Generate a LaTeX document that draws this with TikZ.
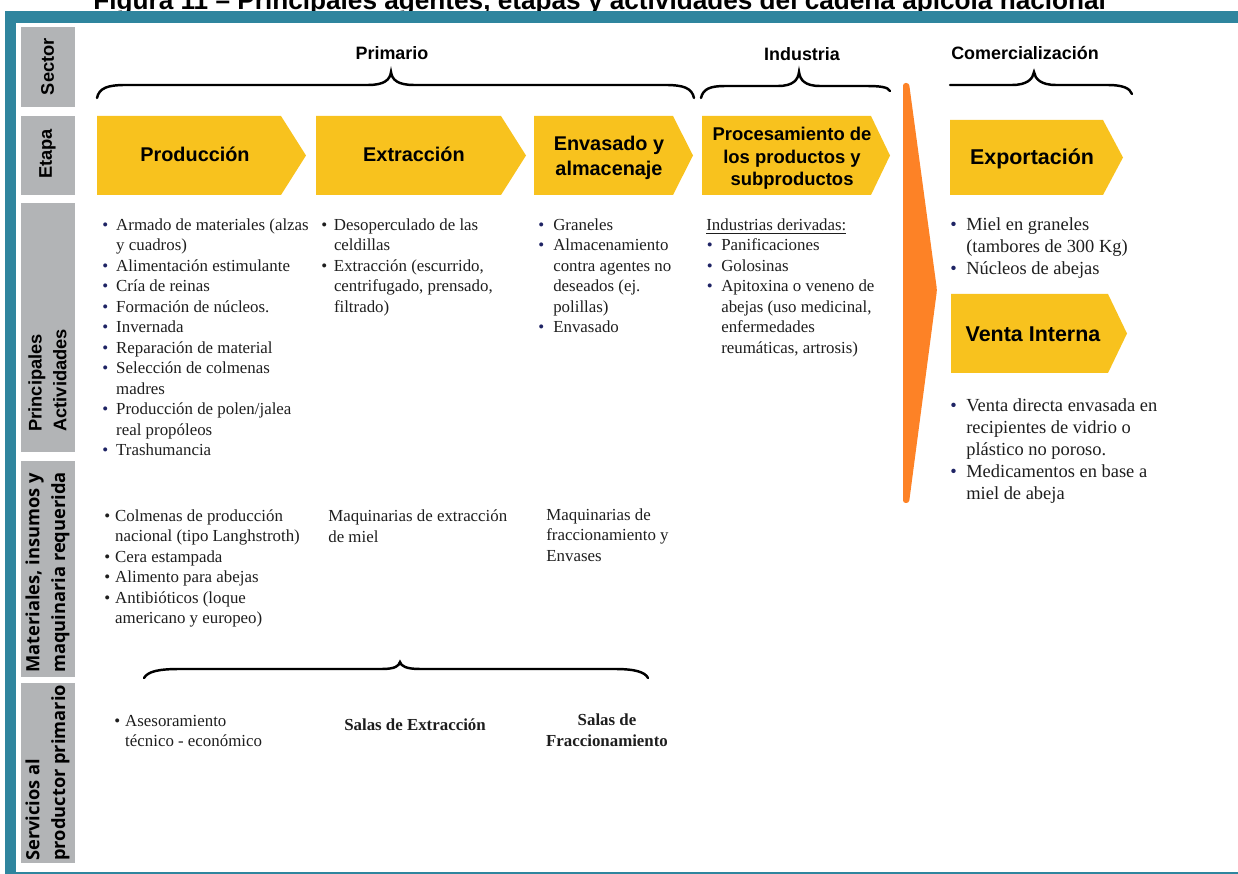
\documentclass[tikz,border=0pt]{standalone}
\usepackage{fontspec}
\setmainfont{Liberation Serif}
\setsansfont{Liberation Sans}
\newfontfamily\rotulofont{Open Sans}
\usepackage{xcolor}
\usepackage{tikz}

\definecolor{marcoazul}{RGB}{47,133,158}
\definecolor{etapaamarillo}{RGB}{248,194,30}
\definecolor{flechanaranja}{RGB}{253,130,38}
\definecolor{rotulogris}{RGB}{178,180,182}
\definecolor{vinetaazul}{RGB}{30,35,100}
\definecolor{textogris}{RGB}{30,30,30}

\newlength{\vinetaancho}
\newcommand{\vineta}{\makebox[\vinetaancho][l]{\strut\textcolor{vinetaazul}{\textbullet}}}
\newcommand{\vinetanegra}{\makebox[\vinetaancho][l]{\strut\textbullet}}
\newcommand{\sangria}{\hspace*{\vinetaancho}}

\begin{document}
\begin{tikzpicture}[x=0.02cm, y=-0.02cm,
		etapa/.style={fill=etapaamarillo},
		etapatexto/.style={font=\sffamily\bfseries\fontsize{11.3}{14.2}\selectfont, align=center, inner sep=0},
		sector/.style={font=\sffamily\bfseries\fontsize{10.2}{12}\selectfont, inner sep=0, anchor=base},
		llave/.style={line width=1.4pt, line cap=round},
		rotulo/.style={fill=rotulogris},
		rotulotexto/.style={font=\sffamily\bfseries\fontsize{10.4}{14}\selectfont, rotate=90, align=left, anchor=west, inner sep=0},
		lista/.style={font=\fontsize{9.6}{11.66}\selectfont, text=textogris, align=left, anchor=north west, inner sep=0, execute at begin node={\setlength{\vinetaancho}{#1}}},
		lista/.default=7pt]
	\def\eTop{116};
	\def\eBot{195};
	\def\eMid{155.5};

	\useasboundingbox (0,0) rectangle (1238,874);
	\clip (0,0) rectangle (1238,874);

	\begin{scope}
		\node[font=\sffamily\bfseries\fontsize{14.9}{17}\selectfont, anchor=base west, inner sep=0] (titulo) at (93,9.5) {Figura 11 -- Principales agentes, etapas y actividades del cadena apícola nacional};
		\fill[marcoazul] (5,11) rectangle (1238,23);
		\fill[marcoazul] (5,11) rectangle (16,874);
		\draw[marcoazul, line width=0.9pt] (16,873) -- (1238,873);
	\end{scope}

	\begin{scope}
		\fill[rotulo] (21,27) rectangle (75,107);
		\fill[rotulo] (21,116) rectangle (75,195);
		\fill[rotulo] (21,203) rectangle (75,452);
		\fill[rotulo] (21,461) rectangle (75,677);
		\fill[rotulo] (21,683) rectangle (75,863);
		\node[rotulotexto] (rSector) at (47.5,95.5) {Sector};
		\node[rotulotexto] (rEtapa) at (47.5,179) {Etapa};
		\node[rotulotexto] (rActividades) at (47.5,432) {Principales\\Actividades};
		\node[rotulotexto, font=\rotulofont\bfseries\fontsize{10.4}{14.7}\selectfont] (rMateriales) at (47.5,673) {Materiales, insumos y\\maquinaria requerida};
		\node[rotulotexto, font=\rotulofont\bfseries\fontsize{10.4}{14.7}\selectfont] (rServicios) at (47.5,861) {Servicios al\\productor primario};
	\end{scope}

	\begin{scope}
		\node[sector] (primario) at (392,59.5) {Primario};
		\node[sector] (industria) at (802,61) {Industria};
		\node[sector] (comercializacion) at (1025,59.5) {Comercialización};
		\draw[llave] (97,98) .. controls (99,88) and (108,85) .. (125,85) -- (368,85) .. controls (384,85) and (390,80) .. (391,72) .. controls (392,80) and (398,85) .. (414,85) -- (666,85) .. controls (683,85) and (692,88) .. (694,98);
		\draw[llave] (701,98) .. controls (703,89) and (710,86) .. (725,86) -- (778,86) .. controls (793,86) and (798,80) .. (799,72) .. controls (800,80) and (805,86) .. (820,86) -- (866,86) .. controls (880,86) and (888,87) .. (890,91);
		\draw[llave] (950,85) -- (1012,85) .. controls (1027,85) and (1033,79) .. (1034,72) .. controls (1035,79) and (1041,85) .. (1056,85) -- (1108,85) .. controls (1122,85) and (1130,88) .. (1132,94);
	\end{scope}

	\begin{scope}
		\fill[etapa] (97,\eTop) -- (281,\eTop) -- (306,\eMid) -- (281,\eBot) -- (97,\eBot) -- cycle;
		\fill[etapa] (316,\eTop) -- (501,\eTop) -- (526,\eMid) -- (501,\eBot) -- (316,\eBot) -- cycle;
		\fill[etapa] (534,\eTop) -- (673,\eTop) -- (693,\eMid) -- (673,\eBot) -- (534,\eBot) -- cycle;
		\fill[etapa] (702,\eTop) -- (871,\eTop) -- (890,\eMid) -- (871,\eBot) -- (702,\eBot) -- cycle;
		\node[etapatexto, anchor=base] (produccion) at (195,162) {Producción};
		\node[etapatexto, anchor=base] (extraccion) at (414,162) {Extracción};
		\node[etapatexto] (envasado) at (609,158) {Envasado y\\almacenaje};
		\node[etapatexto, font=\sffamily\bfseries\fontsize{10.5}{12.8}\selectfont] (procesamiento) at (792,158.5) {Procesamiento de\\los productos y\\subproductos};
	\end{scope}

	\begin{scope}
		\fill[flechanaranja, rounded corners=1.5] (903,83) -- (909,83) -- (937,290) -- (909,503) -- (903,503) -- cycle;
		\fill[etapa] (950,120) -- (1103,120) -- (1123,157.5) -- (1103,195) -- (950,195) -- cycle;
		\fill[etapa] (951,294) -- (1108,294) -- (1127,333.5) -- (1108,373) -- (951,373) -- cycle;
		\node[etapatexto, anchor=base, font=\sffamily\bfseries\fontsize{12.2}{14}\selectfont] (exportacion) at (1032,164.5) {Exportación};
		\node[etapatexto, anchor=base, font=\sffamily\bfseries\fontsize{12.2}{14}\selectfont] (ventainterna) at (1033,341.5) {Venta Interna};
	\end{scope}

	\begin{scope}
		\node[lista=7.9pt] (actProduccion) at (102,215.6) {\vineta Armado de materiales (alzas\\
			\sangria y cuadros)\\
			\vineta Alimentación estimulante\\
			\vineta Cría de reinas\\
			\vineta Formación de núcleos.\\
			\vineta Invernada\\
			\vineta Reparación de material\\
			\vineta Selección de colmenas\\
			\sangria madres\\
			\vineta Producción de polen/jalea\\
			\sangria real propóleos\\
			\vineta Trashumancia};
		\node[lista=7.2pt] (actExtraccion) at (321,215.6) {\vinetanegra Desoperculado de las\\
			\sangria celdillas\\
			\vinetanegra Extracción (escurrido,\\
			\sangria centrifugado, prensado,\\
			\sangria filtrado)};
		\node[lista=8.5pt] (actEnvasado) at (538,215.6) {\vineta Graneles\\
			\vineta Almacenamiento\\
			\sangria contra agentes no\\
			\sangria deseados (ej.\\
			\sangria polillas)\\
			\vineta Envasado};
		\node[lista] (industrias) at (706,215.6) {\strut\underline{Industrias derivadas:}};
		\node[lista=8.2pt] (actProcesamiento) at (706.5,236.1) {\vineta Panificaciones\\
			\vineta Golosinas\\
			\vineta Apitoxina o veneno de\\
			\sangria abejas (uso medicinal,\\
			\sangria enfermedades\\
			\sangria reumáticas, artrosis)};
		\node[lista=9.1pt, font=\fontsize{10.5}{12.5}\selectfont] (actExportacion) at (950,215.2) {\vineta Miel en graneles\\
			\sangria (tambores de 300 Kg)\\
			\vineta Núcleos de abejas};
		\node[lista=9.1pt, font=\fontsize{10.5}{12.5}\selectfont] (actVenta) at (950,396.2) {\vineta Venta directa envasada en\\
			\sangria recipientes de vidrio o\\
			\sangria plástico no poroso.\\
			\vineta Medicamentos en base a\\
			\sangria miel de abeja};
	\end{scope}

	\begin{scope}
		\node[lista=6.2pt] (matProduccion) at (104,506.6) {\vinetanegra Colmenas de producción\\
			\sangria nacional (tipo Langhstroth)\\
			\vinetanegra Cera estampada\\
			\vinetanegra Alimento para abejas\\
			\vinetanegra Antibióticos (loque\\
			\sangria americano y europeo)};
		\node[lista] (matExtraccion) at (328,507.3) {\strut Maquinarias de extracción\\de miel};
		\node[lista] (matEnvasado) at (546,505.6) {\strut Maquinarias de\\fraccionamiento y\\Envases};
		\draw[llave] (144,678) .. controls (148,671) and (160,669) .. (180,669) -- (382,669) .. controls (395,669) and (399,666) .. (400,662) .. controls (401,666) and (406,669) .. (420,669) -- (615,669) .. controls (635,669) and (645,672) .. (648,678);
	\end{scope}

	\begin{scope}
		\node[lista=6.2pt] (servAsesoramiento) at (114,711.6) {\vinetanegra Asesoramiento\\
			\sangria técnico - económico};
		\node[lista, anchor=base, font=\bfseries\fontsize{9.6}{12.2}\selectfont] (salasExtraccion) at (415,730) {Salas de Extracción};
		\node[lista, anchor=north, align=center, font=\bfseries\fontsize{9.6}{12.2}\selectfont] (salasFraccionamiento) at (607,709.9) {\strut Salas de\\Fraccionamiento};
	\end{scope}
\end{tikzpicture}
\end{document}
